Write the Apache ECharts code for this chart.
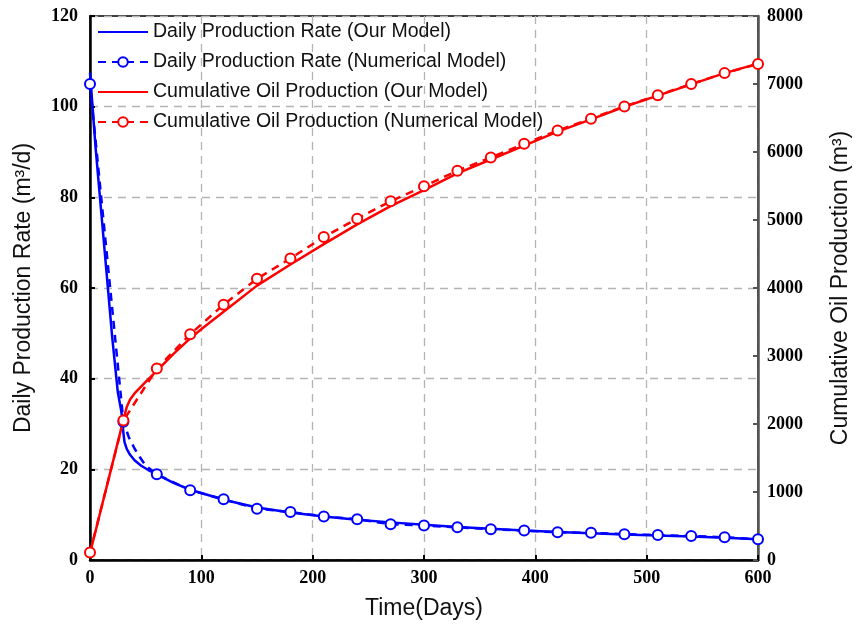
<!DOCTYPE html>
<html>
<head>
<meta charset="utf-8">
<script src="https://cdn.jsdelivr.net/npm/echarts@6/dist/echarts.min.js"></script>
<style>
  html, body { margin: 0; padding: 0; background: #fff; }
  #chart { width: 861px; height: 625px; }
</style>
</head>
<body>
<div id="chart"></div>
<script>
// 我们的模型 - 日产量
var modelRateDays = [0, 5, 10, 15, 20, 25, 28, 29, 30, 31, 33, 36, 40, 46, 52, 60, 75, 90, 112, 120, 150, 180, 210, 240, 270, 300, 330, 360, 390, 420, 450, 480, 510, 540, 570, 600];
var modelRate = [107.5, 91, 77, 63, 49, 37, 33, 31, 28, 26, 24.5, 23.2, 22, 20.8, 19.9, 18.9, 17, 15.5, 13.9, 13.3, 11.6, 10.5, 9.6, 8.9, 8.3, 7.8, 7.3, 6.9, 6.5, 6.2, 5.9, 5.6, 5.4, 5.2, 4.9, 4.6];

// 数值模型 - 日产量 (每30天一个标记点)
var numRateDays = [0, 30, 35, 40, 45, 50, 60, 90, 120, 150, 180, 210, 240, 270, 300, 330, 360, 390, 420, 450, 480, 510, 540, 570, 600];
var numRate = [105, 30.5, 27, 24.6, 22.6, 20.8, 18.9, 15.4, 13.4, 11.3, 10.6, 9.6, 9.0, 7.9, 7.6, 7.2, 6.8, 6.5, 6.1, 6.0, 5.7, 5.5, 5.3, 5.0, 4.6];

// 我们的模型 - 累计产油量
var modelCumDays = [0, 30, 33, 36, 40, 50, 60, 75, 90, 105, 120, 150, 180, 210, 240, 270, 300, 330, 360, 390, 420, 450, 480, 510, 540, 570, 600];
var modelCum = [100, 2060, 2250, 2360, 2450, 2620, 2780, 3030, 3260, 3460, 3650, 4035, 4345, 4645, 4935, 5205, 5440, 5685, 5890, 6095, 6300, 6480, 6665, 6830, 6995, 7160, 7300];

// 数值模型 - 累计产油量
var numCumDays = [0, 30, 60, 90, 120, 150, 180, 210, 240, 270, 300, 330, 360, 390, 420, 450, 480, 510, 540, 570, 600];
var numCum = [110, 2050, 2815, 3320, 3755, 4135, 4435, 4750, 5020, 5275, 5495, 5725, 5920, 6120, 6315, 6490, 6670, 6835, 7000, 7160, 7295];

var names = [
  'Daily Production Rate (Our Model)',
  'Daily Production Rate (Numerical Model)',
  'Cumulative Oil Production (Our Model)',
  'Cumulative Oil Production (Numerical Model)'
];

function pairs(days, vals, markEvery) {
  return days.map(function (d, i) {
    var item = { value: [d, vals[i]] };
    if (markEvery && d % markEvery !== 0) item.symbol = 'none';
    return item;
  });
}

var tickFont = { fontFamily: 'Liberation Serif', fontWeight: 'bold', fontSize: 18, color: '#000' };
var nameFont = { fontFamily: 'Liberation Sans', fontSize: 23, color: '#111' };

var myChart = echarts.init(document.getElementById('chart'));

var option = {
  animation: false,
  grid: {
    left: 90, right: 103, top: 16, bottom: 64,
    show: true, borderColor: '#000', borderWidth: 1.5
  },
  legend: {
    orient: 'vertical',
    left: 92, top: 17,
    itemWidth: 50, itemHeight: 12, itemGap: 10,
    textStyle: { fontFamily: 'Liberation Sans', fontSize: 19.5, color: '#111' },
    data: [
      { name: names[0], itemStyle: { opacity: 0 } },
      { name: names[1] },
      { name: names[2], itemStyle: { opacity: 0 } },
      { name: names[3] }
    ]
  },
  xAxis: {
    type: 'value',
    min: 0, max: 600, interval: 100,
    name: 'Time(Days)',
    nameLocation: 'middle',
    nameGap: 37,
    nameTextStyle: nameFont,
    axisLine: { lineStyle: { color: '#000', width: 2.5 } },
    axisTick: { inside: true, length: 5, lineStyle: { color: '#000', width: 2 } },
    axisLabel: Object.assign({ margin: 9 }, tickFont),
    splitLine: { show: true, lineStyle: { color: '#b4b4b4', type: [8, 6], width: 1.3 } }
  },
  yAxis: [{
    type: 'value',
    min: 0, max: 120, interval: 20,
    name: 'Daily Production Rate (m³/d)',
    nameLocation: 'middle',
    nameRotate: 90,
    nameGap: 55,
    nameTextStyle: nameFont,
    axisLine: { show: true, lineStyle: { color: '#000', width: 2.5 } },
    axisTick: { show: true, inside: true, length: 5, lineStyle: { color: '#000', width: 2 } },
    axisLabel: Object.assign({ margin: 12 }, tickFont),
    splitLine: { show: true, lineStyle: { color: '#b4b4b4', type: [8, 6], width: 1.3 } }
  }, {
    type: 'value',
    position: 'right',
    min: 0, max: 8000, interval: 1000,
    name: 'Cumulative Oil Production (m³)',
    nameLocation: 'middle',
    nameRotate: 90,
    nameGap: 71,
    nameTextStyle: nameFont,
    axisLine: { show: true, lineStyle: { color: '#555', width: 2.5 } },
    axisTick: { show: true, inside: true, length: 5, lineStyle: { color: '#555', width: 2 } },
    axisLabel: Object.assign({ margin: 9, formatter: function (v) { return String(v); } }, tickFont),
    splitLine: { show: false }
  }],
  series: [{
    name: names[0],
    type: 'line',
    yAxisIndex: 0,
    data: pairs(modelRateDays, modelRate),
    showSymbol: false,
    clip: false,
    z: 3,
    lineStyle: { color: '#0000ff', width: 2.5 },
    itemStyle: { color: '#0000ff' }
  }, {
    name: names[1],
    type: 'line',
    yAxisIndex: 0,
    data: pairs(numRateDays, numRate, 30),
    symbol: 'circle',
    symbolSize: 10,
    clip: false,
    z: 4,
    lineStyle: { color: '#0000ff', width: 2.5, type: [8, 6] },
    itemStyle: { color: '#fff', borderColor: '#0000ff', borderWidth: 2 }
  }, {
    name: names[2],
    type: 'line',
    yAxisIndex: 1,
    data: pairs(modelCumDays, modelCum),
    showSymbol: false,
    clip: false,
    z: 3,
    lineStyle: { color: '#ff0000', width: 2.5 },
    itemStyle: { color: '#ff0000' }
  }, {
    name: names[3],
    type: 'line',
    yAxisIndex: 1,
    data: pairs(numCumDays, numCum),
    symbol: 'circle',
    symbolSize: 10,
    clip: false,
    z: 4,
    lineStyle: { color: '#ff0000', width: 2.5, type: [8, 6] },
    itemStyle: { color: '#fff', borderColor: '#ff0000', borderWidth: 2 }
  }]
};

myChart.setOption(option);
</script>
</body>
</html>
